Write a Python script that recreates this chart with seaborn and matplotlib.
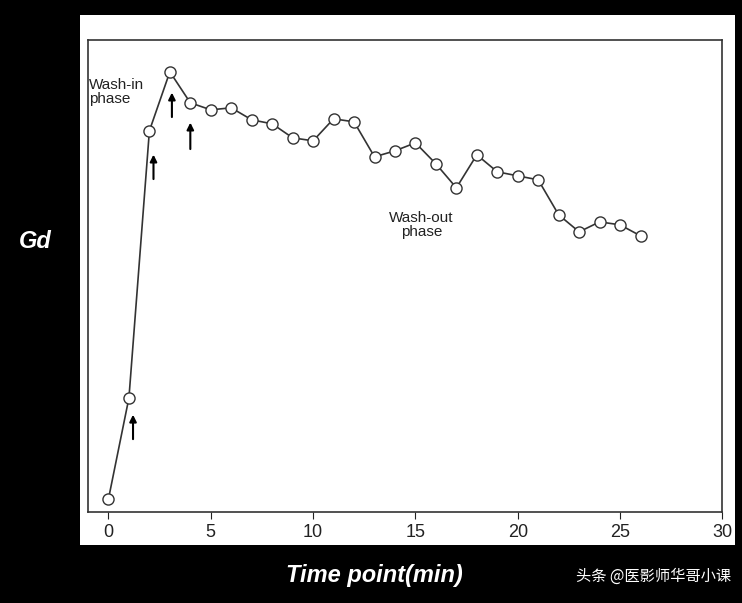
import matplotlib
matplotlib.use("Agg")
import matplotlib.pyplot as plt
import seaborn as sns
import pandas as pd

time_min = list(range(27))
gd = [13, 114, 381, 440, 409, 402, 404, 392, 388, 374, 371, 393, 390, 355, 361, 369, 348, 324, 357, 340, 336, 332, 297, 280, 290, 287, 276]
x_ticks = [0, 5, 10, 15, 20, 25, 30]
df = pd.DataFrame({"t": time_min, "gd": gd})

sns.set_style("white")
plt.rcParams['font.family'] = ['Liberation Sans', 'Noto Sans CJK SC', 'DejaVu Sans']
fig = plt.figure(figsize=(7.42, 6.03), dpi=100, facecolor="black")
bg = fig.add_axes([0.108, 0.096, 0.883, 0.879], zorder=0)
bg.set_facecolor("white"); bg.set_xticks([]); bg.set_yticks([])
for s in bg.spines.values():
    s.set_visible(False)
ax = fig.add_axes([0.1186, 0.151, 0.855, 0.783], zorder=1)
ax.set_facecolor("white")
sns.lineplot(data=df, x="t", y="gd", ax=ax, color="#333333", lw=1.2,
             marker="o", markersize=8, markerfacecolor="white", markeredgecolor="#333333", markeredgewidth=1)
ax.set_xlim(-1, 30)
ax.set_ylim(0, 472)
ax.set_xticks(x_ticks)
ax.set_yticks([])
ax.tick_params(axis="x", direction="out", length=5, labelsize=13, colors="#222222", bottom=True)
for s in ax.spines.values():
    s.set_color("#333333"); s.set_linewidth(1.2)
ax.set_xlabel(""); ax.set_ylabel("")

for (x, y0, y1) in [(1.2, 70, 100), (2.2, 330, 360), (3.1, 392, 422), (4.0, 360, 392)]:
    ax.annotate("", xy=(x, y1), xytext=(x, y0),
                arrowprops=dict(arrowstyle="-|>", color="black", lw=1.5, mutation_scale=10))

ax.text(-0.95, 420, "Wash-in\nphase", fontsize=11, ha="left", va="center", color="#222222", linespacing=0.95)
ax.text(15.3, 287, "Wash-out\nphase", fontsize=11, ha="center", va="center", color="#222222", linespacing=0.95)

fig.text(0.048, 0.6, "Gd", color="white", fontsize=17, fontweight="bold", style="italic", ha="center", va="center")
fig.text(0.505, 0.045, "Time point(min)", color="white", fontsize=17, fontweight="bold", style="italic", ha="center", va="center")
fig.text(0.985, 0.045, "头条 @医影师华哥小课", color="white", fontsize=11, ha="right", va="center",
         family=['Noto Sans CJK SC', 'DejaVu Sans'])

fig.savefig("out.png", dpi=100, facecolor="black")
